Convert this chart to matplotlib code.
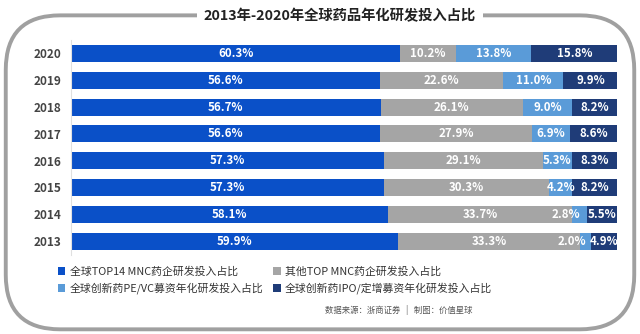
import numpy as np
import matplotlib
matplotlib.use("Agg")
import matplotlib.pyplot as plt
from matplotlib.patches import FancyBboxPatch, Patch

plt.rcParams['font.family'] = ['Noto Sans CJK SC', 'DejaVu Sans']

# 数据
years = ['2013', '2014', '2015', '2016', '2017', '2018', '2019', '2020']
top14 = [59.9, 58.1, 57.3, 57.3, 56.6, 56.7, 56.6, 60.3]
other_top = [33.3, 33.7, 30.3, 29.1, 27.9, 26.1, 22.6, 10.2]
pe_vc = [2.0, 2.8, 4.2, 5.3, 6.9, 9.0, 11.0, 13.8]
ipo = [4.9, 5.5, 8.2, 8.3, 8.6, 8.2, 9.9, 15.8]

series = [top14, other_top, pe_vc, ipo]
nombres = ['全球TOP14 MNC药企研发投入占比', '其他TOP MNC药企研发投入占比',
           '全球创新药PE/VC募资年化研发投入占比', '全球创新药IPO/定增募资年化研发投入占比']
colores = ['#0A50C8', '#A5A5A5', '#5A9BD8', '#1F3C78']

fig = plt.figure(figsize=(6.4, 3.34), dpi=100)

# marco redondeado
marco = FancyBboxPatch((0.009, 0.014), 0.982, 0.94,
                       boxstyle="round,pad=0,rounding_size=0.085",
                       transform=fig.transFigure, fill=False,
                       edgecolor='#A0A0A0', linewidth=2.8,
                       mutation_aspect=640/334)
fig.patches.append(marco)

fig.text(0.531, 0.952, '2013年-2020年全球药品年化研发投入占比', ha='center', va='center',
         fontsize=10.3, fontweight='bold', color='#222222',
         bbox=dict(facecolor='white', edgecolor='none', pad=5))

ax = fig.add_axes([0.111, 0.238, 0.853, 0.642])
y = np.arange(len(years))
izq = np.zeros(len(years))
for k, (vals, col) in enumerate(zip(series, colores)):
    vals = np.array(vals)
    ax.barh(y, vals, left=izq, height=0.64, color=col, edgecolor='none')
    for i, v in enumerate(vals):
        xc = izq[i] + v / 2
        if v < 3:
            xc -= 2.5
        ax.text(xc, y[i], f'{v:.1f}%', ha='center', va='center',
                color='white', fontsize=8.3, fontweight='bold')
    izq += vals

ax.set_xlim(0, 100)
ax.set_ylim(-0.5, 7.5)
ax.set_yticks(y)
ax.set_yticklabels(years, fontsize=8.5, fontweight='bold', color='#444444')
ax.tick_params(axis='y', length=0, pad=7)
ax.set_xticks([])
for s in ['top', 'right', 'bottom']:
    ax.spines[s].set_visible(False)
ax.spines['left'].set_color('#E0E0E0')

handles = [Patch(facecolor=colores[i], edgecolor='none') for i in [0, 2, 1, 3]]
labels = [nombres[i] for i in [0, 2, 1, 3]]
fig.legend(handles, labels, loc='upper left', bbox_to_anchor=(0.075, 0.232),
           ncol=2, frameon=False, fontsize=7.8, handlelength=0.7, handleheight=0.7,
           handletextpad=0.4, columnspacing=0.9, labelspacing=0.5,
           labelcolor='#333333')

fig.text(0.738, 0.072, '数据来源：浙商证券   |   制图：价值星球', ha='right', va='center',
         fontsize=6, color='#555555')

fig.savefig('out.png', dpi=100)
